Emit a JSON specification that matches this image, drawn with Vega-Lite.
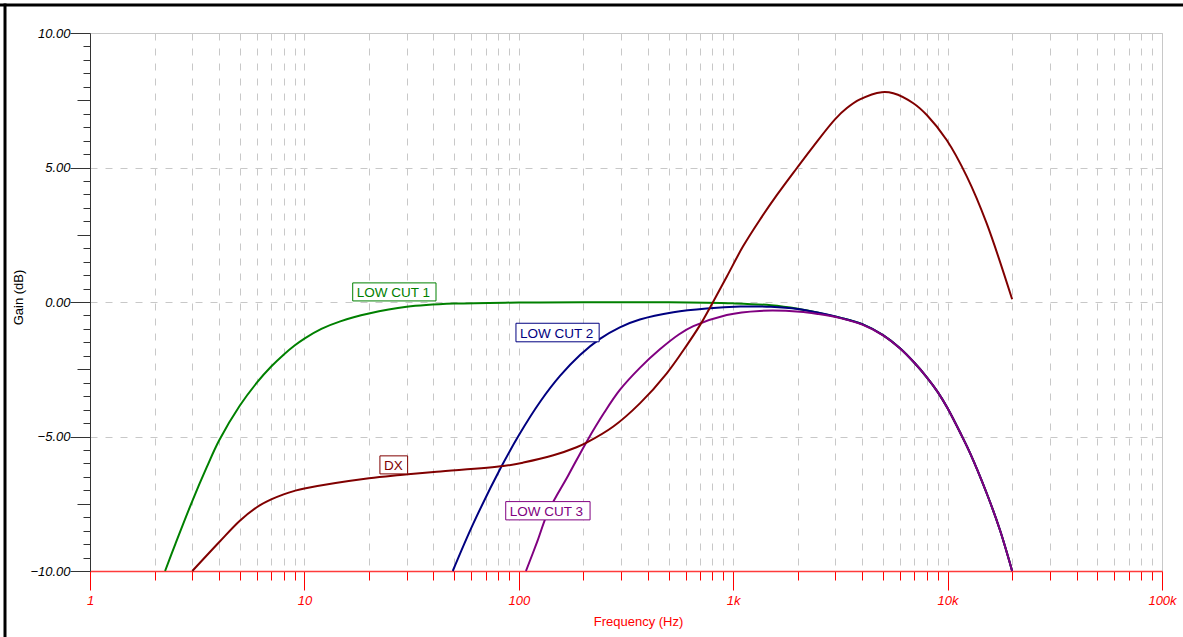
{
  "$schema": "https://vega.github.io/schema/vega-lite/v6.json",
  "width": 1072,
  "height": 538,
  "autosize": {"type": "none"},
  "padding": {"left": 90, "top": 33, "right": 21, "bottom": 66},
  "background": "white",
  "config": {
    "view": {"stroke": "#c8c8c8", "strokeWidth": 1},
    "font": "Liberation Sans"
  },
  "datasets": {
    "curves": [
      {"series": "LOW CUT 1", "freq": 2.24, "gain": -10},
      {"series": "LOW CUT 1", "freq": 2.5, "gain": -9.0},
      {"series": "LOW CUT 1", "freq": 3, "gain": -7.4},
      {"series": "LOW CUT 1", "freq": 3.5, "gain": -6.15},
      {"series": "LOW CUT 1", "freq": 4, "gain": -5.15},
      {"series": "LOW CUT 1", "freq": 5, "gain": -3.85},
      {"series": "LOW CUT 1", "freq": 6, "gain": -3.0},
      {"series": "LOW CUT 1", "freq": 7, "gain": -2.4},
      {"series": "LOW CUT 1", "freq": 8, "gain": -1.96},
      {"series": "LOW CUT 1", "freq": 9, "gain": -1.62},
      {"series": "LOW CUT 1", "freq": 10, "gain": -1.36},
      {"series": "LOW CUT 1", "freq": 12, "gain": -1.0},
      {"series": "LOW CUT 1", "freq": 14.7, "gain": -0.72},
      {"series": "LOW CUT 1", "freq": 20, "gain": -0.43},
      {"series": "LOW CUT 1", "freq": 30, "gain": -0.18},
      {"series": "LOW CUT 1", "freq": 50, "gain": -0.06},
      {"series": "LOW CUT 1", "freq": 100, "gain": -0.02},
      {"series": "LOW CUT 1", "freq": 200, "gain": -0.01},
      {"series": "LOW CUT 1", "freq": 500, "gain": -0.01},
      {"series": "LOW CUT 1", "freq": 1000, "gain": -0.05},
      {"series": "LOW CUT 1", "freq": 1500, "gain": -0.12},
      {"series": "LOW CUT 1", "freq": 2000, "gain": -0.25},
      {"series": "LOW CUT 1", "freq": 2500, "gain": -0.4},
      {"series": "LOW CUT 1", "freq": 3150, "gain": -0.58},
      {"series": "LOW CUT 1", "freq": 4000, "gain": -0.82},
      {"series": "LOW CUT 1", "freq": 5000, "gain": -1.23},
      {"series": "LOW CUT 1", "freq": 6000, "gain": -1.72},
      {"series": "LOW CUT 1", "freq": 7000, "gain": -2.26},
      {"series": "LOW CUT 1", "freq": 8000, "gain": -2.8},
      {"series": "LOW CUT 1", "freq": 9000, "gain": -3.35},
      {"series": "LOW CUT 1", "freq": 10000, "gain": -3.95},
      {"series": "LOW CUT 1", "freq": 11600, "gain": -4.95},
      {"series": "LOW CUT 1", "freq": 12700, "gain": -5.6},
      {"series": "LOW CUT 1", "freq": 15200, "gain": -7.1},
      {"series": "LOW CUT 1", "freq": 17500, "gain": -8.45},
      {"series": "LOW CUT 1", "freq": 20000, "gain": -10},

      {"series": "LOW CUT 2", "freq": 49.2, "gain": -10},
      {"series": "LOW CUT 2", "freq": 61.4, "gain": -8.23},
      {"series": "LOW CUT 2", "freq": 83.2, "gain": -6.1},
      {"series": "LOW CUT 2", "freq": 101, "gain": -4.9},
      {"series": "LOW CUT 2", "freq": 126, "gain": -3.7},
      {"series": "LOW CUT 2", "freq": 156, "gain": -2.74},
      {"series": "LOW CUT 2", "freq": 193, "gain": -1.97},
      {"series": "LOW CUT 2", "freq": 239, "gain": -1.37},
      {"series": "LOW CUT 2", "freq": 296, "gain": -0.94},
      {"series": "LOW CUT 2", "freq": 367, "gain": -0.65},
      {"series": "LOW CUT 2", "freq": 526, "gain": -0.38},
      {"series": "LOW CUT 2", "freq": 752, "gain": -0.24},
      {"series": "LOW CUT 2", "freq": 1080, "gain": -0.17},
      {"series": "LOW CUT 2", "freq": 1500, "gain": -0.18},
      {"series": "LOW CUT 2", "freq": 2000, "gain": -0.26},
      {"series": "LOW CUT 2", "freq": 2500, "gain": -0.4},
      {"series": "LOW CUT 2", "freq": 3150, "gain": -0.58},
      {"series": "LOW CUT 2", "freq": 4000, "gain": -0.82},
      {"series": "LOW CUT 2", "freq": 5000, "gain": -1.23},
      {"series": "LOW CUT 2", "freq": 6000, "gain": -1.72},
      {"series": "LOW CUT 2", "freq": 7000, "gain": -2.26},
      {"series": "LOW CUT 2", "freq": 8000, "gain": -2.8},
      {"series": "LOW CUT 2", "freq": 9000, "gain": -3.35},
      {"series": "LOW CUT 2", "freq": 10000, "gain": -3.95},
      {"series": "LOW CUT 2", "freq": 11600, "gain": -4.95},
      {"series": "LOW CUT 2", "freq": 12700, "gain": -5.6},
      {"series": "LOW CUT 2", "freq": 15200, "gain": -7.1},
      {"series": "LOW CUT 2", "freq": 17500, "gain": -8.45},
      {"series": "LOW CUT 2", "freq": 20000, "gain": -10},

      {"series": "LOW CUT 3", "freq": 108, "gain": -10},
      {"series": "LOW CUT 3", "freq": 122, "gain": -8.9},
      {"series": "LOW CUT 3", "freq": 137, "gain": -7.8},
      {"series": "LOW CUT 3", "freq": 170, "gain": -6.45},
      {"series": "LOW CUT 3", "freq": 207, "gain": -5.2},
      {"series": "LOW CUT 3", "freq": 250, "gain": -4.12},
      {"series": "LOW CUT 3", "freq": 296, "gain": -3.27},
      {"series": "LOW CUT 3", "freq": 367, "gain": -2.45},
      {"series": "LOW CUT 3", "freq": 455, "gain": -1.76},
      {"series": "LOW CUT 3", "freq": 560, "gain": -1.2},
      {"series": "LOW CUT 3", "freq": 652, "gain": -0.9},
      {"series": "LOW CUT 3", "freq": 933, "gain": -0.48},
      {"series": "LOW CUT 3", "freq": 1330, "gain": -0.33},
      {"series": "LOW CUT 3", "freq": 2050, "gain": -0.36},
      {"series": "LOW CUT 3", "freq": 2500, "gain": -0.45},
      {"series": "LOW CUT 3", "freq": 3150, "gain": -0.6},
      {"series": "LOW CUT 3", "freq": 4000, "gain": -0.84},
      {"series": "LOW CUT 3", "freq": 5000, "gain": -1.24},
      {"series": "LOW CUT 3", "freq": 6000, "gain": -1.73},
      {"series": "LOW CUT 3", "freq": 7000, "gain": -2.26},
      {"series": "LOW CUT 3", "freq": 8000, "gain": -2.8},
      {"series": "LOW CUT 3", "freq": 9000, "gain": -3.35},
      {"series": "LOW CUT 3", "freq": 10000, "gain": -3.95},
      {"series": "LOW CUT 3", "freq": 11600, "gain": -4.95},
      {"series": "LOW CUT 3", "freq": 12700, "gain": -5.6},
      {"series": "LOW CUT 3", "freq": 15200, "gain": -7.1},
      {"series": "LOW CUT 3", "freq": 17500, "gain": -8.45},
      {"series": "LOW CUT 3", "freq": 20000, "gain": -10},

      {"series": "DX", "freq": 3.0, "gain": -10},
      {"series": "DX", "freq": 4, "gain": -8.93},
      {"series": "DX", "freq": 5, "gain": -8.13},
      {"series": "DX", "freq": 6, "gain": -7.63},
      {"series": "DX", "freq": 7, "gain": -7.34},
      {"series": "DX", "freq": 8, "gain": -7.15},
      {"series": "DX", "freq": 9, "gain": -7.02},
      {"series": "DX", "freq": 10, "gain": -6.93},
      {"series": "DX", "freq": 20, "gain": -6.55},
      {"series": "DX", "freq": 28, "gain": -6.43},
      {"series": "DX", "freq": 41.4, "gain": -6.31},
      {"series": "DX", "freq": 84.7, "gain": -6.1},
      {"series": "DX", "freq": 105, "gain": -5.97},
      {"series": "DX", "freq": 145, "gain": -5.7},
      {"series": "DX", "freq": 186, "gain": -5.4},
      {"series": "DX", "freq": 207, "gain": -5.23},
      {"series": "DX", "freq": 276, "gain": -4.63},
      {"series": "DX", "freq": 367, "gain": -3.77},
      {"series": "DX", "freq": 490, "gain": -2.65},
      {"series": "DX", "freq": 606, "gain": -1.62},
      {"series": "DX", "freq": 700, "gain": -0.86},
      {"series": "DX", "freq": 795, "gain": -0.08},
      {"series": "DX", "freq": 933, "gain": 0.94},
      {"series": "DX", "freq": 1110, "gain": 2.06},
      {"series": "DX", "freq": 1330, "gain": 3.05},
      {"series": "DX", "freq": 1600, "gain": 3.98},
      {"series": "DX", "freq": 1990, "gain": 5.0},
      {"series": "DX", "freq": 2360, "gain": 5.78},
      {"series": "DX", "freq": 2990, "gain": 6.8},
      {"series": "DX", "freq": 3380, "gain": 7.2},
      {"series": "DX", "freq": 3900, "gain": 7.53},
      {"series": "DX", "freq": 4930, "gain": 7.8},
      {"series": "DX", "freq": 5580, "gain": 7.76},
      {"series": "DX", "freq": 6920, "gain": 7.39},
      {"series": "DX", "freq": 8000, "gain": 6.95},
      {"series": "DX", "freq": 9900, "gain": 6.02},
      {"series": "DX", "freq": 12300, "gain": 4.66},
      {"series": "DX", "freq": 15200, "gain": 2.93},
      {"series": "DX", "freq": 20000, "gain": 0.1}
    ],
    "labels": [
      {"series": "LOW CUT 1", "label": "LOW CUT 1", "fLo": 16.8, "fHi": 41.1, "gLo": 0.04, "gHi": 0.71},
      {"series": "LOW CUT 2", "label": "LOW CUT 2", "fLo": 97.0, "fHi": 237, "gLo": -1.48, "gHi": -0.79},
      {"series": "DX", "label": "DX", "fLo": 22.5, "fHi": 30.3, "gLo": -6.39, "gHi": -5.72},
      {"series": "LOW CUT 3", "label": "LOW CUT 3", "fLo": 86.9, "fHi": 215, "gLo": -8.1, "gHi": -7.42}
    ],
    "frame": [{"kind": "frame"}]
  },
  "layer": [
    {
      "data": {"name": "curves"},
      "mark": {"type": "line", "strokeWidth": 2, "interpolate": "catmull-rom"},
      "encoding": {
        "x": {
          "field": "freq", "type": "quantitative",
          "scale": {"type": "log", "domain": [1, 100000], "nice": false},
          "axis": {
            "title": "Frequency (Hz)",
            "labelExpr": "datum.value === 1 ? '1' : datum.value === 10 ? '10' : datum.value === 100 ? '100' : datum.value === 1000 ? '1k' : datum.value === 10000 ? '10k' : datum.value === 100000 ? '100k' : ''",
            "labelFont": "Liberation Sans", "labelFontStyle": "italic", "labelFontSize": 13, "labelColor": "#ff0000",
            "labelPadding": 4, "labelOverlap": false, "labelBound": false, "labelFlush": false,
            "tickSize": {"condition": {"test": "indexof([1,10,100,1000,10000,100000], datum.value) >= 0", "value": 19}, "value": 9},
            "tickColor": "#ff0000", "tickWidth": 1,
            "domainColor": "#ff3b3b", "domainWidth": 1.5,
            "grid": true, "gridColor": "#c8c8c8", "gridDash": [7, 8], "gridWidth": 1,
            "titleColor": "#ff0000", "titleFont": "Liberation Sans", "titleFontSize": 13, "titleFontWeight": "normal",
            "titleX": 548, "titleY": 50, "titleBaseline": "middle"
          }
        },
        "y": {
          "field": "gain", "type": "quantitative",
          "scale": {"domain": [-10, 10], "nice": false, "zero": false},
          "axis": {
            "title": "Gain (dB)",
            "tickCount": 40,
            "labelExpr": "datum.value % 5 === 0 ? format(datum.value, '.2f') : ''",
            "labelFont": "Liberation Sans", "labelFontStyle": "italic", "labelFontSize": 13, "labelColor": "#000000",
            "labelPadding": 0, "labelOverlap": false, "labelBound": false, "labelFlush": false,
            "tickSize": {"expr": "datum.value % 5 === 0 ? 20 : (datum.value % 2.5 === 0 ? 13 : 7)"},
            "tickColor": "#333333", "domainColor": "#333333",
            "grid": true, "gridColor": "#c8c8c8", "gridDash": [7, 8],
            "gridOpacity": {"condition": {"test": "datum.value % 5 !== 0", "value": 0}, "value": 1},
            "titleColor": "#000000", "titleFont": "Liberation Sans", "titleFontSize": 13, "titleFontWeight": "normal",
            "titleX": -72, "titleY": 264, "titleAngle": -90, "titleBaseline": "middle", "titleAlign": "center"
          }
        },
        "color": {
          "field": "series", "type": "nominal",
          "scale": {"domain": ["LOW CUT 1", "LOW CUT 2", "LOW CUT 3", "DX"], "range": ["#008000", "#000080", "#800080", "#800000"]},
          "legend": null
        }
      }
    },
    {
      "data": {"name": "labels"},
      "mark": {"type": "rect", "fill": "white", "strokeWidth": 1},
      "encoding": {
        "x": {"field": "fLo", "type": "quantitative"},
        "x2": {"field": "fHi"},
        "y": {"field": "gLo", "type": "quantitative"},
        "y2": {"field": "gHi"},
        "stroke": {"field": "series", "type": "nominal", "scale": {"domain": ["LOW CUT 1", "LOW CUT 2", "LOW CUT 3", "DX"], "range": ["#008000", "#000080", "#800080", "#800000"]}, "legend": null}
      }
    },
    {
      "data": {"name": "labels"},
      "mark": {"type": "text", "align": "left", "baseline": "alphabetic", "dx": 4, "dy": -4, "fontSize": 13.5, "font": "Liberation Sans"},
      "encoding": {
        "x": {"field": "fLo", "type": "quantitative"},
        "y": {"field": "gLo", "type": "quantitative"},
        "text": {"field": "label"},
        "color": {"field": "series", "type": "nominal", "scale": {"domain": ["LOW CUT 1", "LOW CUT 2", "LOW CUT 3", "DX"], "range": ["#008000", "#000080", "#800080", "#800000"]}, "legend": null}
      }
    },
    {
      "data": {"name": "frame"},
      "mark": {"type": "rule", "color": "#000000", "strokeWidth": 3},
      "encoding": {
        "x": {"datum": 0.3},
        "x2": {"datum": 300000},
        "y": {"datum": 11.04}
      }
    },
    {
      "data": {"name": "frame"},
      "mark": {"type": "rule", "color": "#000000", "strokeWidth": 3},
      "encoding": {
        "x": {"datum": 0.4014},
        "y": {"datum": 11.1},
        "y2": {"datum": -14}
      }
    }
  ]
}
